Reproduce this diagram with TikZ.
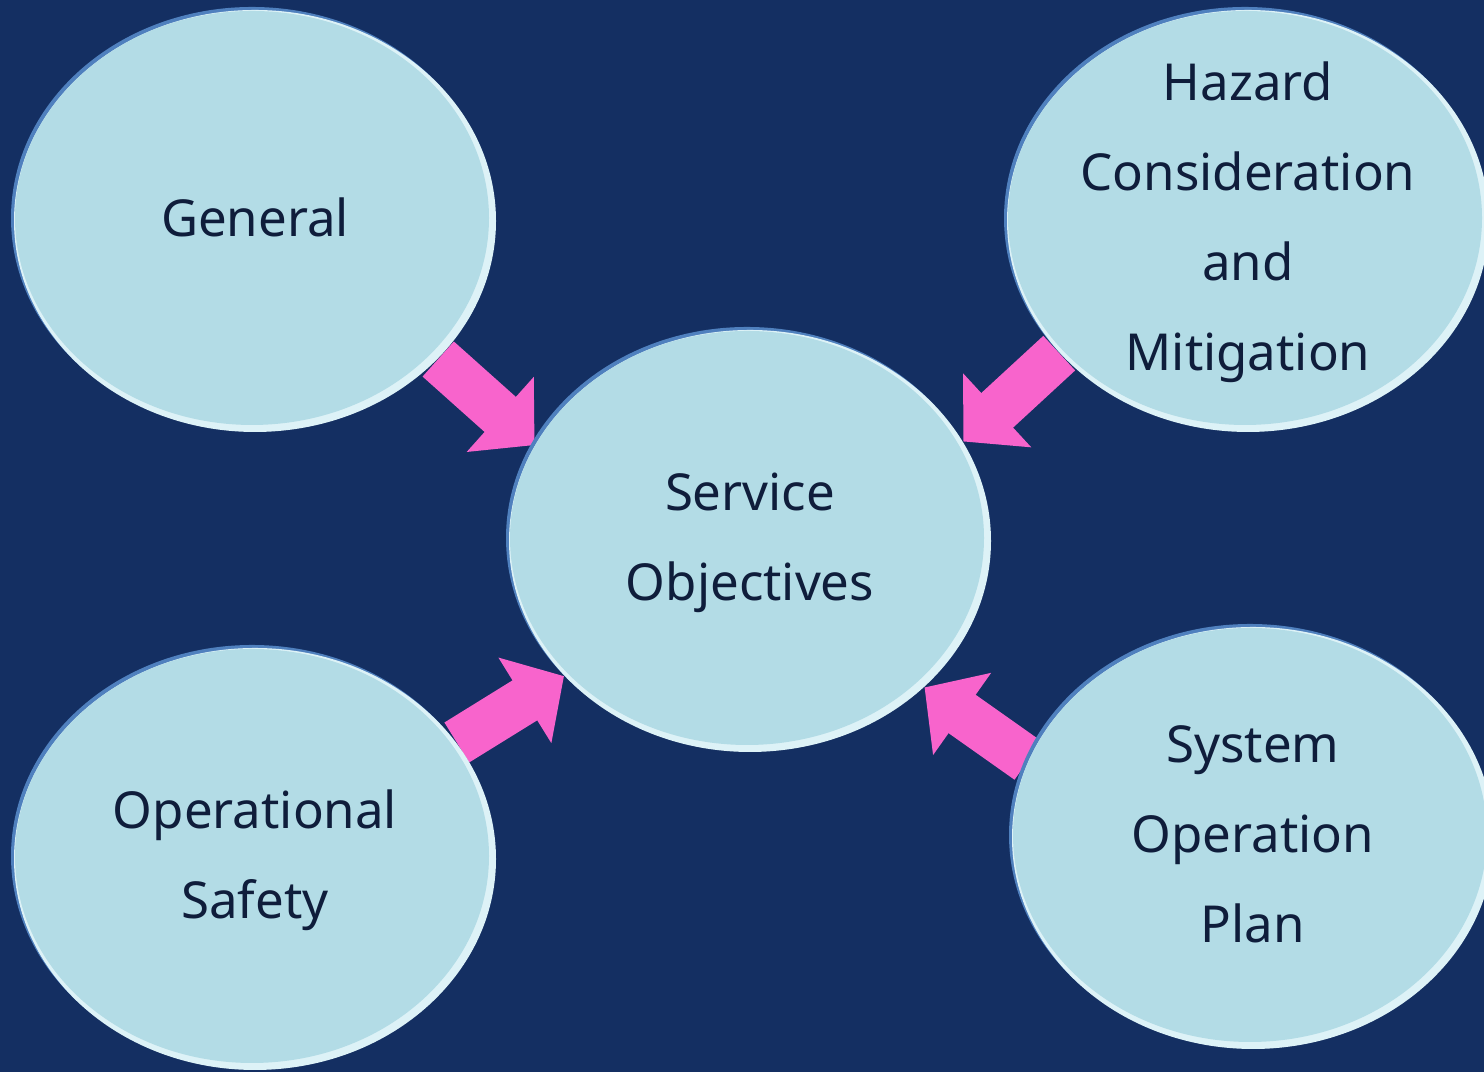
\documentclass[tikz,border=0pt]{standalone}
\usepackage{fontspec}
\setmainfont{Noto Sans}
\usetikzlibrary{shapes.geometric,arrows.meta,backgrounds}
\definecolor{bgnavy}{HTML}{142F62}
\definecolor{bubble}{HTML}{B3DCE6}
\definecolor{rimw}{HTML}{DDF2F7}
\definecolor{rimb}{HTML}{4F80BE}
\definecolor{ink}{HTML}{0F1D3B}
\definecolor{pinkarr}{HTML}{F864CC}
\pgfdeclarelayer{arrowlayer}
\pgfsetlayers{background,arrowlayer,main}
\begin{document}
\begin{tikzpicture}[
  bubblenode/.style={ellipse, minimum width=4.82cm, minimum height=4.22cm, inner sep=0pt,
    fill=rimw,
    preaction={fill=rimb, transform canvas={xshift=-0.03cm, yshift=0.03cm}},
    path picture={\fill[bubble] ([xshift=-0.03cm,yshift=0.03cm]path picture bounding box.center) ellipse [x radius=2.37cm, y radius=2.07cm];}},
  bubbletext/.style={text=ink, font=\fontsize{14.5}{25.6}\selectfont, align=center, inner sep=0pt},
  flow/.style={line width=0.47cm, draw=pinkarr, -{Triangle[width=0.98cm,length=0.46cm]}}
]
\useasboundingbox (0,0) rectangle (14.84,10.72);
\begin{pgfonlayer}{background}
\fill[bgnavy] (0,0) rectangle (14.84,10.72);
\end{pgfonlayer}

\node[bubblenode] (gen) at (2.55,8.51) {};
\node[bubblenode] (haz) at (12.48,8.51) {};
\node[bubblenode] (svc) at (7.50,5.31) {};
\node[bubblenode] (ops) at (2.55,2.13) {};
\node[bubblenode] (sys) at (12.53,2.34) {};

\node[bubbletext, yshift=0.04cm] (gentxt) at (gen) {General};
\node[bubbletext, yshift=-0.01cm] (haztxt) at (haz) {Hazard\\Consideration\\and\\Mitigation};
\node[bubbletext, yshift=-0.02cm] (svctxt) at (svc) {Service\\Objectives};
\node[bubbletext, yshift=-0.01cm] (opstxt) at (ops) {Operational\\Safety};
\node[bubbletext, yshift=0.04cm] (systxt) at (sys) {System\\Operation\\Plan};

\begin{pgfonlayer}{arrowlayer}
\draw[flow] (gen.-37) -- (svc.156);
\draw[flow] (haz.215) -- (svc.25);
\draw[flow] (ops.30) -- (svc.216);
\draw[flow] (sys.161) -- (svc.320);
\end{pgfonlayer}
\end{tikzpicture}
\end{document}
